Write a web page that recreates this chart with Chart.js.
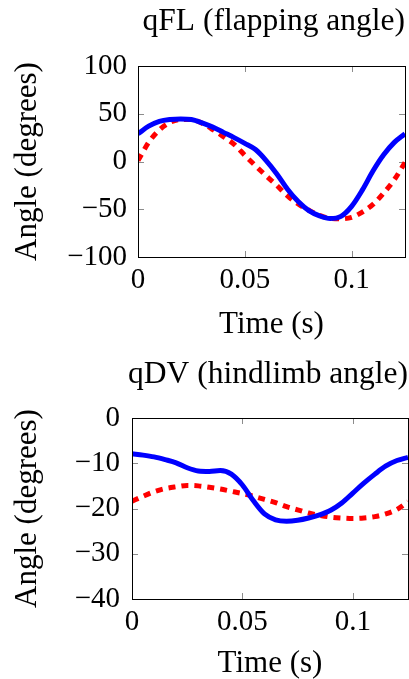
<!DOCTYPE html>
<html>
<head>
<meta charset="utf-8">
<script src="https://cdn.jsdelivr.net/npm/chart.js@4.4.0/dist/chart.umd.min.js"></script>
<style>
  html, body { margin: 0; padding: 0; background: #fff; }
  .wrap { position: absolute; left: 0; width: 409px; }
  canvas { display: block; }
</style>
</head>
<body>
<div class="wrap" style="top:0;height:340px"><canvas id="flChart" width="409" height="340"></canvas></div>
<div class="wrap" style="top:340px;height:339px"><canvas id="dvChart" width="409" height="339"></canvas></div>
<script>
const times = [0, 0.005, 0.01, 0.015, 0.02, 0.025, 0.03, 0.035, 0.04, 0.045, 0.05, 0.055, 0.06,
  0.065, 0.07, 0.075, 0.08, 0.085, 0.09, 0.095, 0.1, 0.105, 0.11, 0.115, 0.12, 0.125];

// qFL
const flBlue = [29, 37, 42, 44, 44.6, 44, 40.5, 36, 30.5, 25, 19, 12.5, 1,
  -13, -29, -42, -51.5, -57, -59.8, -57.5, -47, -30, -10, 7, 20, 29];
const flRed = [1, 20, 33, 41, 44, 44, 40, 33.5, 26, 18, 6.5, -4.5, -15,
  -25, -36, -44.5, -51, -56.5, -59.5, -60, -58.5, -53, -45, -33, -19, -1];

// qDV
const dvBlue = [-7.9, -8.2, -8.6, -9.2, -9.9, -11.0, -11.7, -11.8, -11.6, -12.4, -14.8, -18.3, -21.2,
  -22.5, -22.8, -22.6, -22.1, -21.4, -20.4, -18.8, -16.6, -14.4, -12.4, -10.6, -9.4, -8.7];
const dvRed = [-18.4, -17.3, -16.3, -15.6, -15.2, -14.9, -15.0, -15.3, -15.7, -16.2, -16.7, -17.3, -18.0,
  -18.7, -19.6, -20.3, -21.0, -21.5, -21.9, -22.1, -22.2, -22.1, -21.8, -21.2, -20.2, -18.5];

const xTicks = [0, 0.05, 0.1];
const flTicks = [-100, -50, 0, 50, 100];
const dvTicks = [-40, -30, -20, -10, 0];

const SERIF = "'Liberation Serif', 'Times New Roman', serif";

function fmt(v) {
  const s = String(Math.round(v * 1000) / 1000);
  return s.replace('-', '\u2212');
}

function pts(ys) {
  return times.map((t, i) => ({ x: t, y: ys[i] }));
}

// pgfplots-like box with inward ticks on all four sides
const boxPlugin = {
  id: 'box',
  beforeDatasetsDraw(chart) {
    const { ctx, chartArea: a, scales } = chart;
    ctx.save();
    ctx.strokeStyle = '#8c8c8c';
    ctx.lineWidth = 1;
    const len = 6;
    ctx.beginPath();
    scales.x.ticks.forEach(t => {
      const px = Math.round(scales.x.getPixelForValue(t.value)) + 0.5;
      ctx.moveTo(px, a.bottom); ctx.lineTo(px, a.bottom - len);
      ctx.moveTo(px, a.top); ctx.lineTo(px, a.top + len);
    });
    scales.y.ticks.forEach(t => {
      const py = Math.round(scales.y.getPixelForValue(t.value)) + 0.5;
      ctx.moveTo(a.left, py); ctx.lineTo(a.left + len, py);
      ctx.moveTo(a.right, py); ctx.lineTo(a.right - len, py);
    });
    ctx.stroke();
    ctx.restore();
  },
  afterDatasetsDraw(chart) {
    const { ctx, chartArea: a } = chart;
    ctx.save();
    ctx.strokeStyle = '#000';
    ctx.lineWidth = 1;
    ctx.strokeRect(Math.round(a.left) + 0.5, Math.round(a.top) + 0.5,
      Math.round(a.right - a.left), Math.round(a.bottom - a.top));
    ctx.restore();
  }
};

function makeChart(id, title, blue, red, yTicks, cfg) {
  const ctx = document.getElementById(id).getContext('2d');
  return new Chart(ctx, {
    type: 'line',
    data: {
      datasets: [
        {
          data: pts(blue),
          borderColor: '#0000ff',
          borderWidth: 5,
          pointRadius: 0,
          cubicInterpolationMode: 'monotone',
          fill: false
        },
        {
          data: pts(red),
          borderColor: '#ff0000',
          borderWidth: 5,
          borderDash: [7, 6],
          borderCapStyle: 'butt',
          pointRadius: 0,
          cubicInterpolationMode: 'monotone',
          fill: false
        }
      ]
    },
    options: {
      responsive: false,
      devicePixelRatio: 1,
      animation: false,
      layout: { padding: { left: 0, right: cfg.padRight, top: 0, bottom: 0 } },
      scales: {
        x: {
          type: 'linear',
          min: 0,
          max: 0.125,
          afterBuildTicks: s => { s.ticks = xTicks.map(v => ({ value: v })); },
          afterFit: s => { s.height = cfg.xHeight; },
          grid: { display: false, drawTicks: false },
          border: { display: false },
          ticks: {
            color: '#000',
            padding: cfg.xTickPad,
            maxRotation: 0,
            font: { family: SERIF, size: 29 },
            callback: v => fmt(v)
          },
          title: {
            display: true,
            text: 'Time (s)',
            color: '#000',
            font: { family: SERIF, size: 31, lineHeight: 1.0 },
            padding: { top: 0, bottom: cfg.xTitlePad }
          }
        },
        y: {
          type: 'linear',
          min: yTicks[0],
          max: yTicks[yTicks.length - 1],
          afterBuildTicks: s => { s.ticks = yTicks.map(v => ({ value: v })); },
          afterFit: s => { s.width = cfg.yWidth; },
          grid: { display: false, drawTicks: false },
          border: { display: false },
          ticks: {
            color: '#000',
            padding: cfg.yTickPad,
            font: { family: SERIF, size: 29 },
            callback: v => fmt(v)
          },
          title: {
            display: true,
            text: 'Angle (degrees)',
            color: '#000',
            font: { family: SERIF, size: 31, lineHeight: 1.0 },
            padding: { top: cfg.yTitlePad, bottom: 0 }
          }
        }
      },
      plugins: {
        legend: { display: false },
        tooltip: { enabled: false },
        title: {
          display: true,
          text: title,
          align: 'end',
          color: '#000',
          font: { family: SERIF, size: 31.5, weight: 'normal', lineHeight: 1.2 },
          padding: { top: cfg.titleTop, bottom: cfg.titleBottom }
        }
      }
    },
    plugins: [boxPlugin]
  });
}

makeChart('flChart', 'qFL (flapping angle)', flBlue, flRed, flTicks, {
  padRight: 4, xHeight: 83, yWidth: 138, xTickPad: 6, yTickPad: 11,
  xTitlePad: 0, yTitlePad: 12.5, titleTop: 3, titleBottom: 25.2
});

makeChart('dvChart', 'qDV (hindlimb angle)', dvBlue, dvRed, dvTicks, {
  padRight: 1, xHeight: 80, yWidth: 132, xTickPad: 6, yTickPad: 12,
  xTitlePad: 0, yTitlePad: 12.5, titleTop: 16, titleBottom: 24.2
});
</script>
</body>
</html>
